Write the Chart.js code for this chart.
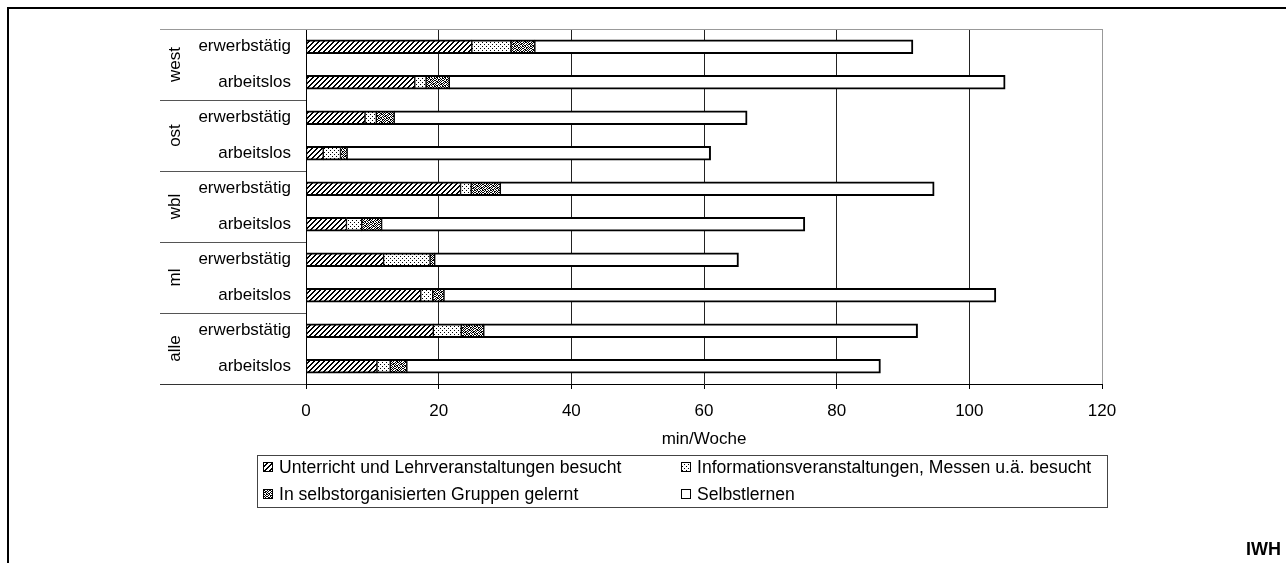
<!DOCTYPE html>
<html>
<head>
<meta charset="utf-8">
<script src="https://cdn.jsdelivr.net/npm/chart.js@4"></script>
<style>
  html, body { margin: 0; padding: 0; background: #fff; }
</style>
</head>
<body>
<canvas id="grafico" width="1286" height="563"></canvas>
<script>
// Daten (min/Woche), von oben nach unten
const categories = [
    'erwerbstätig', 'arbeitslos', 'erwerbstätig', 'arbeitslos', 'erwerbstätig',
    'arbeitslos', 'erwerbstätig', 'arbeitslos', 'erwerbstätig', 'arbeitslos'
];
const groups = ['west', 'ost', 'wbl', 'ml', 'alle'];
const unterricht  = [25.0, 16.4, 8.9, 2.6, 23.3, 6.1, 11.7, 17.3, 19.2, 10.7];
const information = [5.9, 1.7, 1.7, 2.6, 1.6, 2.3, 7.0, 1.8, 4.2, 2.0];
const gruppen     = [3.6, 3.5, 2.7, 1.0, 4.4, 3.0, 0.7, 1.7, 3.4, 2.5];
const selbst      = [57.0, 83.8, 53.2, 54.8, 65.4, 63.8, 45.8, 83.2, 65.4, 71.4];
const seriesLabels = [
    'Unterricht und Lehrveranstaltungen besucht',
    'Informationsveranstaltungen, Messen u.ä. besucht',
    'In selbstorganisierten Gruppen gelernt',
    'Selbstlernen'
];
const xTicks = [0, 20, 40, 60, 80, 100, 120];
const xTitle = 'min/Woche';

const FONT = '"Liberation Sans", Arial, sans-serif';
Chart.defaults.font.family = FONT;
Chart.defaults.font.size = 17;
Chart.defaults.color = '#000';

const ctx = document.getElementById('grafico').getContext('2d');

// Schraffur-Muster
function muster(w, h, zeichne) {
    const c = document.createElement('canvas');
    c.width = w; c.height = h;
    const g = c.getContext('2d');
    g.fillStyle = '#fff';
    g.fillRect(0, 0, w, h);
    g.fillStyle = '#000';
    zeichne(g);
    return ctx.createPattern(c, 'repeat');
}
const schraffur = muster(5, 5, g => {
    for (let x = 0; x < 5; x++) {
        g.fillRect(x, 4 - x, 1, 1);
        g.fillRect(x, (5 - x) % 5, 1, 1);
    }
});
const punkte = muster(4, 4, g => {
    g.fillRect(0, 0, 1, 1);
    g.fillRect(2, 2, 1, 1);
});
const konfetti = muster(8, 8, g => {
    const rows = ['10110010', '01001101', '10010110', '01101001',
                  '11010010', '00101101', '10110100', '01001011'];
    rows.forEach((r, y) => r.split('').forEach((p, x) => { if (p === '1') g.fillRect(x, y, 1, 1); }));
});
const fills = [schraffur, punkte, konfetti, '#fff'];

const rand = { top: 2, bottom: 2, left: 1, right: 1 };

const extras = {
    id: 'extras',
    afterDraw(chart) {
        const { ctx: c, chartArea: a, scales: { y } } = chart;
        const links = 160;
        c.save();
        // obere Linie des Diagramms
        c.strokeStyle = '#999';
        c.lineWidth = 1;
        c.beginPath(); c.moveTo(links, a.top + 0.5); c.lineTo(a.right, a.top + 0.5); c.stroke();
        // untere Linie
        c.strokeStyle = '#333';
        c.beginPath(); c.moveTo(links, a.bottom + 0.5); c.lineTo(a.left, a.bottom + 0.5); c.stroke();
        // Gruppen-Trennlinien und Beschriftungen
        c.strokeStyle = '#555';
        c.fillStyle = '#000';
        c.font = '17px ' + FONT;
        c.textAlign = 'center';
        c.textBaseline = 'middle';
        groups.forEach((name, i) => {
            if (i > 0) {
                const yy = Math.round((y.getPixelForValue(2 * i - 1) + y.getPixelForValue(2 * i)) / 2) + 0.5;
                c.beginPath(); c.moveTo(links, yy); c.lineTo(a.left, yy); c.stroke();
            }
            const cy = (y.getPixelForValue(2 * i) + y.getPixelForValue(2 * i + 1)) / 2;
            c.save();
            c.translate(175, cy);
            c.rotate(-Math.PI / 2);
            c.fillText(name, 0, 0);
            c.restore();
        });
        // Legende
        c.strokeStyle = '#444';
        c.strokeRect(257.5, 455.5, 850, 52);
        const spalten = [263, 681];
        const zeilen = [467, 494];
        c.textAlign = 'left';
        c.font = '17.6px ' + FONT;
        seriesLabels.forEach((lab, i) => {
            const sx = spalten[i % 2], sy = zeilen[Math.floor(i / 2)];
            c.fillStyle = fills[i];
            c.fillRect(sx, sy - 5, 10, 10);
            c.strokeStyle = '#000';
            c.strokeRect(sx + 0.5, sy - 4.5, 9, 9);
            c.fillStyle = '#000';
            c.fillText(lab, sx + 16, sy + 1);
        });
        // IWH
        c.font = 'bold 18px ' + FONT;
        c.textAlign = 'right';
        c.textBaseline = 'alphabetic';
        c.fillText('IWH', 1281, 555);
        // Rahmen
        c.fillStyle = '#000';
        c.fillRect(7, 7, 2, 556);
        c.fillRect(7, 7, 1279, 2);
        c.restore();
    }
};

new Chart(ctx, {
    type: 'bar',
    data: {
        labels: categories,
        datasets: [unterricht, information, gruppen, selbst].map((d, i) => ({
            label: seriesLabels[i],
            data: d,
            backgroundColor: fills[i],
            borderColor: '#000',
            borderWidth: i === 3 ? { top: 2, bottom: 2, left: 1, right: 2 } : rand,
            borderSkipped: false,
            barThickness: 14
        }))
    },
    options: {
        indexAxis: 'y',
        responsive: false,
        animation: false,
        layout: { padding: { left: 160, top: 29, right: 184, bottom: 113 } },
        plugins: { legend: { display: false }, tooltip: { enabled: false } },
        scales: {
            x: {
                stacked: true,
                min: 0,
                max: 120,
                afterBuildTicks: s => { s.ticks = xTicks.map(v => ({ value: v })); },
                afterFit: s => { s.height = 66; },
                grid: {
                    color: c => (c.index === xTicks.length - 1 ? '#999' : '#222'),
                    tickColor: '#000',
                    tickLength: 5
                },
                border: { display: true, color: '#000', width: 1 },
                ticks: { padding: 12, color: '#000' },
                title: { display: true, text: xTitle, color: '#000', padding: { top: 0, bottom: 0 } }
            },
            y: {
                stacked: true,
                afterFit: s => { s.width = 146; },
                grid: { display: false, drawTicks: false },
                border: { display: true, color: '#000', width: 1 },
                ticks: { padding: 15, color: '#000', autoSkip: false }
            }
        }
    },
    plugins: [extras]
});
</script>
</body>
</html>
